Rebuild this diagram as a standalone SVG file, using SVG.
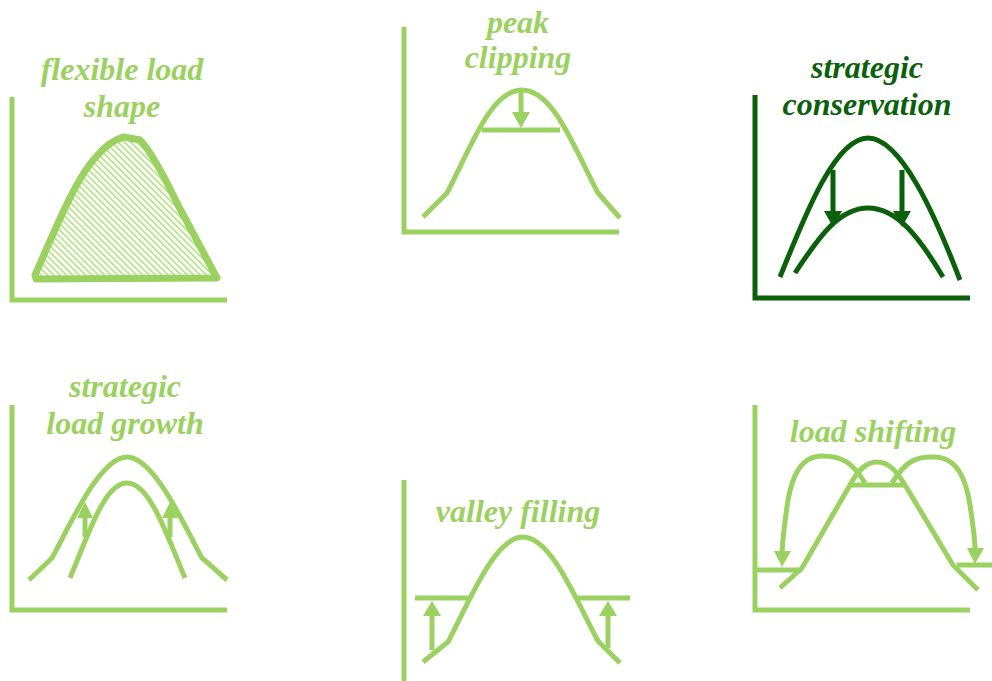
<svg xmlns="http://www.w3.org/2000/svg" width="992" height="681" viewBox="0 0 992 681">
<defs>
<pattern id="hatch" patternUnits="userSpaceOnUse" width="4.5" height="4.5" patternTransform="rotate(-45)">
<rect x="0" y="0" width="2" height="4.5" fill="#bfe296"/>
</pattern>
</defs>
<style>
.l{stroke:#9bd160;fill:none;stroke-width:5}
.d{stroke:#0b610b;fill:none;stroke-width:5}
.la{fill:#9bd160}
.da{fill:#0b610b}
.tl{font-family:"Liberation Serif",serif;font-weight:bold;font-style:italic;font-size:32px;fill:#9bd160;text-anchor:middle}
.td{font-family:"Liberation Serif",serif;font-weight:bold;font-style:italic;font-size:32px;fill:#0b610b;text-anchor:middle}
</style>
<rect width="992" height="681" fill="#fff"/>

<g id="flexible-load-shape">
<path class="l" d="M12,97 V300 H227"/>
<path d="M35,275 C55,230 75,180 95,158 C105,146 115,139 124,137 L140,140 C150,150 165,178 178,205 L217,278 L36,279 Z" fill="url(#hatch)" stroke="#9bd160" stroke-width="7" stroke-linejoin="round"/>
<text class="tl" x="122" y="80">flexible load</text>
<text class="tl" x="122" y="117">shape</text>
</g>

<g id="peak-clipping">
<path class="l" d="M404,27 V232 H619"/>
<path class="l" d="M423,217 L447,193 C470,150 490,90 522,90 C554,90 575,150 598,193 L620,218"/>
<path class="l" d="M482,130 H560"/>
<path class="l" d="M521,90 V114"/>
<polygon class="la" points="512,112 530,112 521,128"/>
<text class="tl" x="518" y="33">peak</text>
<text class="tl" x="518" y="68">clipping</text>
</g>

<g id="strategic-conservation">
<path class="d" d="M755,95 V298 H970"/>
<path class="d" d="M780,277 C805,215 835,138 868,138 C901,138 935,215 960,280"/>
<path class="d" d="M795,273 C820,235 840,208 868,208 C896,208 918,235 943,277"/>
<path class="d" d="M833,170 V213"/>
<polygon class="da" points="824,211 842,211 833,227"/>
<path class="d" d="M902,170 V213"/>
<polygon class="da" points="893,211 911,211 902,227"/>
<text class="td" x="867" y="78">strategic</text>
<text class="td" x="867" y="115">conservation</text>
</g>

<g id="strategic-load-growth">
<path class="l" d="M12,405 V610 H227"/>
<path class="l" d="M29,580 L52,558 C70,525 100,457 127,457 C154,457 184,525 202,558 L227,580"/>
<path class="l" d="M70,578 C90,530 105,483 127,483 C149,483 165,530 185,578"/>
<path class="l" d="M85,537 V516"/>
<polygon class="la" points="77,518 93,518 85,502"/>
<path class="l" d="M170,537 V516"/>
<polygon class="la" points="162,518 178,518 170,502"/>
<text class="tl" x="125" y="397">strategic</text>
<text class="tl" x="125" y="434">load growth</text>
</g>

<g id="valley-filling">
<path class="l" d="M404,480 V681"/>
<path class="l" d="M423,662 L448,642 C470,600 495,537 523,537 C551,537 576,600 598,641 L620,663"/>
<path class="l" d="M415,598 H468 M575,598 H630"/>
<path class="l" d="M432,650 V614"/>
<polygon class="la" points="423,616 441,616 432,601"/>
<path class="l" d="M608,648 V614"/>
<polygon class="la" points="599,616 617,616 608,601"/>
<text class="tl" x="518" y="522">valley filling</text>
</g>

<g id="load-shifting">
<path class="l" d="M755,405 V610 H970"/>
<path class="l" d="M780,588 L802,568 L850,485 C858,470 866,462 877,462 C888,462 896,470 905,485 L953,565 L978,590"/>
<path class="l" d="M850,485 H905"/>
<path class="l" d="M755,570 H802 M957,565 H992"/>
<path class="l" d="M865,483 C852,462 842,456 822,456 C800,456 792,478 788,500 C785,520 783,535 782,552"/>
<polygon class="la" points="774,551 791,551 782,567"/>
<path class="l" d="M892,483 C905,462 915,456 935,457 C958,458 966,480 970,505 C973,525 975,540 975,549"/>
<polygon class="la" points="967,548 984,548 975,564"/>
<text class="tl" x="873" y="442">load shifting</text>
</g>
</svg>
